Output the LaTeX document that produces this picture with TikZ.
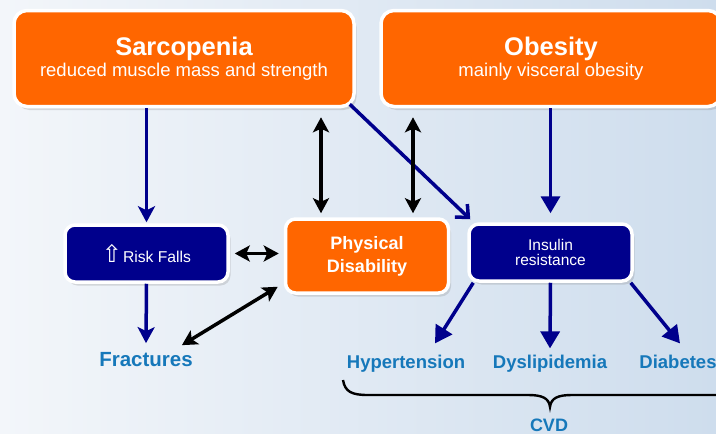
\documentclass[tikz,border=0pt]{standalone}
\usepackage{fontspec}
\setmainfont{Liberation Sans}
\newfontfamily\arrowfont{DejaVu Sans}
\usetikzlibrary{positioning,shadows,arrows.meta}
\definecolor{boxorange}{RGB}{255,102,0}
\definecolor{boxnavy}{RGB}{0,0,140}
\definecolor{labelblue}{RGB}{22,120,186}
\definecolor{bgleft}{RGB}{243,246,250}
\definecolor{bgright}{RGB}{206,221,237}

\begin{document}
\begin{tikzpicture}[x=1pt,y=-1pt,
  box/.style={draw=white,line width=3.5pt,rounded corners=10pt,text=white,align=center,inner sep=0pt,
    drop shadow={opacity=0.25,shadow xshift=2.5pt,shadow yshift=-3.5pt}},
  bigbox/.style={box,fill=boxorange,minimum width=340pt,minimum height=96pt,rounded corners=13pt,
    font=\fontsize{18.5}{21}\selectfont},
  smallbox/.style={box,minimum width=163pt,minimum height=57pt},
  outcome/.style={text=labelblue,font=\fontsize{18.5}{20}\selectfont\bfseries,inner sep=1pt,anchor=base},
  navyline/.style={draw=boxnavy,line width=3.5pt,-{Stealth[length=16pt,width=17pt,inset=4pt]}},
  navytri/.style={draw=boxnavy,line width=3.5pt,-{Triangle[length=17pt,width=19pt]}},
  navyopen/.style={draw=boxnavy,line width=3.5pt,-{Straight Barb[length=10pt,width=18pt]}},
  both/.style={draw=black,line width=3.5pt,{Stealth[length=15pt,width=16pt,inset=3.5pt]}-{Stealth[length=15pt,width=16pt,inset=3.5pt]}}]
\useasboundingbox (0,0) rectangle (716,434);
\shade[left color=bgleft,right color=bgright] (0,0) rectangle (716,434);

\node[bigbox] (sarc) at (184,58.5) {{\fontsize{25.5}{21}\selectfont\bfseries Sarcopenia}\\reduced muscle mass and strength};
\node[bigbox] (obes) at (551,58.5) {{\fontsize{25.5}{21}\selectfont\bfseries Obesity}\\mainly visceral obesity};
\node[smallbox,fill=boxnavy,font=\fontsize{15.7}{18}\selectfont] (falls) at (146.5,253.5) {{\arrowfont\fontsize{24}{24}\selectfont ⇧}\kern1pt Risk Falls};
\node[box,fill=boxorange,minimum width=163pt,minimum height=74pt,font=\fontsize{18}{23}\selectfont\bfseries] (pd) at (367,256) {Physical\\Disability};
\node[smallbox,fill=boxnavy,font=\fontsize{15.5}{15.5}\selectfont] (ins) at (550.5,252.5) {Insulin\\resistance};

\node[text=labelblue,font=\fontsize{20.5}{22}\selectfont\bfseries,inner sep=1pt] (frac) at (146,359.5) {Fractures};
\node[outcome] (hyp) at (406,368) {Hypertension};
\node[outcome] (dys) at (550,368) {Dyslipidemia};
\node[outcome] (dia) at (678,368) {Diabetes};
\node[outcome,font=\fontsize{18}{20}\selectfont\bfseries] (cvd) at (549,431) {CVD};

\path ([xshift=-46pt]pd.north) coordinate (pdl) ([xshift=46pt]pd.north) coordinate (pdr);

\draw[navyline] (sarc.south -| falls.north) -- ([yshift=1pt]falls.north);
\draw[navyline] (falls.south) -- ([yshift=8pt]frac.north);
\draw[navytri] (ins.north |- obes.south) -- ([yshift=9pt]ins.north);
\draw[navyopen] ([xshift=-6pt,yshift=4pt]sarc.south east) -- ([xshift=3pt,yshift=3pt]ins.north west);

\draw[both,shorten <=9pt,shorten >=4pt] (pdl |- sarc.south) -- (pdl);
\draw[both,shorten <=9pt,shorten >=4pt] (pdr |- obes.south) -- (pdr);
\draw[both,shorten <=5pt,shorten >=5pt] (falls.east) -- (falls.east -| pd.west);
\draw[both] ([xshift=-12pt,yshift=6pt]frac.north east) -- ([xshift=-6pt,yshift=8pt]pd.south west);

\draw[navytri] ([xshift=6pt]ins.south west) -- ([xshift=29pt,yshift=10pt]hyp.north);
\draw[navytri] (ins.south) -- ([yshift=5pt]dys.north);
\draw[navytri] ([xshift=-3pt]ins.south east) -- ([xshift=2pt,yshift=10pt]dia.north);

\draw[line width=2.4pt] (343,380) .. controls (345,392) and (352,395) .. (368,395) -- (528,395)
  .. controls (542,395) and (549,398) .. (550,407) .. controls (551,398) and (558,395) .. (572,395)
  -- (732,395) .. controls (748,395) and (755,392) .. (757,380);
\end{tikzpicture}
\end{document}
